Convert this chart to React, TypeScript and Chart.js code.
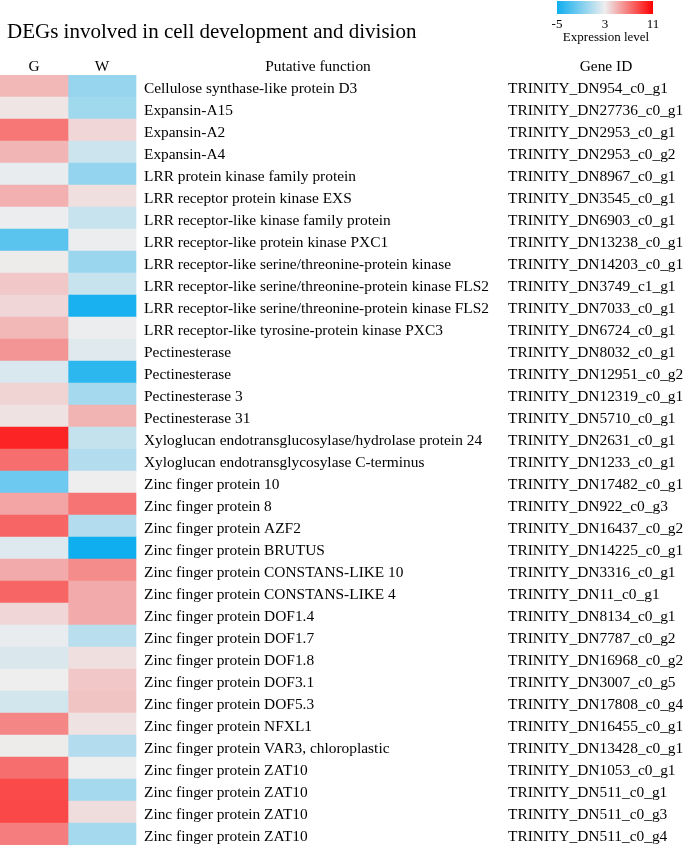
import React, { useEffect, useRef } from "react";
import { Chart, registerables } from "chart.js";

Chart.register(...registerables);

const titleText = "DEGs involved in cell development and division";
const columnLabels = ["G", "W"];
const legendTicks = [-5, 3, 11];
const legendTitle = "Expression level";

const functions = [
  "Cellulose synthase-like protein D3",
  "Expansin-A15",
  "Expansin-A2",
  "Expansin-A4",
  "LRR protein kinase family protein",
  "LRR receptor protein kinase EXS",
  "LRR receptor-like kinase family protein",
  "LRR receptor-like protein kinase PXC1",
  "LRR receptor-like serine/threonine-protein kinase",
  "LRR receptor-like serine/threonine-protein kinase FLS2",
  "LRR receptor-like serine/threonine-protein kinase FLS2",
  "LRR receptor-like tyrosine-protein kinase PXC3",
  "Pectinesterase",
  "Pectinesterase",
  "Pectinesterase 3",
  "Pectinesterase 31",
  "Xyloglucan endotransglucosylase/hydrolase protein 24",
  "Xyloglucan endotransglycosylase C-terminus",
  "Zinc finger protein 10",
  "Zinc finger protein 8",
  "Zinc finger protein AZF2",
  "Zinc finger protein BRUTUS",
  "Zinc finger protein CONSTANS-LIKE 10",
  "Zinc finger protein CONSTANS-LIKE 4",
  "Zinc finger protein DOF1.4",
  "Zinc finger protein DOF1.7",
  "Zinc finger protein DOF1.8",
  "Zinc finger protein DOF3.1",
  "Zinc finger protein DOF5.3",
  "Zinc finger protein NFXL1",
  "Zinc finger protein VAR3, chloroplastic",
  "Zinc finger protein ZAT10",
  "Zinc finger protein ZAT10",
  "Zinc finger protein ZAT10",
  "Zinc finger protein ZAT10",
];

const geneIds = [
  "TRINITY_DN954_c0_g1",
  "TRINITY_DN27736_c0_g1",
  "TRINITY_DN2953_c0_g1",
  "TRINITY_DN2953_c0_g2",
  "TRINITY_DN8967_c0_g1",
  "TRINITY_DN3545_c0_g1",
  "TRINITY_DN6903_c0_g1",
  "TRINITY_DN13238_c0_g1",
  "TRINITY_DN14203_c0_g1",
  "TRINITY_DN3749_c1_g1",
  "TRINITY_DN7033_c0_g1",
  "TRINITY_DN6724_c0_g1",
  "TRINITY_DN8032_c0_g1",
  "TRINITY_DN12951_c0_g2",
  "TRINITY_DN12319_c0_g1",
  "TRINITY_DN5710_c0_g1",
  "TRINITY_DN2631_c0_g1",
  "TRINITY_DN1233_c0_g1",
  "TRINITY_DN17482_c0_g1",
  "TRINITY_DN922_c0_g3",
  "TRINITY_DN16437_c0_g2",
  "TRINITY_DN14225_c0_g1",
  "TRINITY_DN3316_c0_g1",
  "TRINITY_DN11_c0_g1",
  "TRINITY_DN8134_c0_g1",
  "TRINITY_DN7787_c0_g2",
  "TRINITY_DN16968_c0_g2",
  "TRINITY_DN3007_c0_g5",
  "TRINITY_DN17808_c0_g4",
  "TRINITY_DN16455_c0_g1",
  "TRINITY_DN13428_c0_g1",
  "TRINITY_DN1053_c0_g1",
  "TRINITY_DN511_c0_g1",
  "TRINITY_DN511_c0_g3",
  "TRINITY_DN511_c0_g4",
];

const gValues = [
  4.8, 3.3, 7.0, 4.9, 2.8, 5.1, 2.9, -2.3, 3.1, 4.3, 3.8, 4.8, 6.0, 2.2, 3.9,
  3.4, 9.8, 7.3, -1.6, 5.5, 7.6, 2.4, 5.3, 7.6, 3.8, 2.8, 2.3, 3.0, 2.0, 6.5,
  3.1, 7.3, 8.5, 8.6, 6.8,
];

const wValues = [
  -0.1, 0.2, 3.8, 1.8, -0.2, 3.5, 1.6, 2.9, 0.0, 1.6, -4.6, 2.9, 2.5, -3.9, 0.4,
  5.0, 1.5, 0.9, 3.0, 7.1, 0.9, -5.0, 6.3, 5.3, 5.3, 1.1, 3.5, 4.3, 4.4, 3.4,
  0.9, 3.0, 0.4, 3.6, 0.4,
];

const LOW = [14, 174, 239];
const MID = [238, 238, 238];
const HIGH = [255, 0, 0];
const VMIN = -5;
const VMID = 3;
const VMAX = 11;

function colorFor(v: number): string {
  let a: number[], b: number[], t: number;
  if (v <= VMID) {
    a = LOW;
    b = MID;
    t = (v - VMIN) / (VMID - VMIN);
  } else {
    a = MID;
    b = HIGH;
    t = (v - VMID) / (VMAX - VMID);
  }
  t = Math.max(0, Math.min(1, t));
  const c = a.map((x, i) => Math.round(x + (b[i] - x) * t));
  return `rgb(${c[0]},${c[1]},${c[2]})`;
}

const FONT = '"Liberation Serif", "Times New Roman", serif';

export default function App() {
  const ref = useRef<HTMLCanvasElement>(null);

  useEffect(() => {
    if (!ref.current) return;
    const textPlugin = {
      id: "heatText",
      afterDraw(chart: any) {
        const { ctx } = chart;
        const x = chart.scales.x;
        const y = chart.scales.y;
        ctx.save();
        ctx.fillStyle = "#000";
        ctx.textBaseline = "alphabetic";

        ctx.font = `21px ${FONT}`;
        ctx.textAlign = "left";
        ctx.fillText(titleText, 7, 38);

        ctx.font = `15.4px ${FONT}`;
        ctx.textAlign = "center";
        columnLabels.forEach((c, i) => {
          ctx.fillText(c, x.getPixelForValue(i + 0.5), 71);
        });
        ctx.fillText("Putative function", 318, 71);
        ctx.fillText("Gene ID", 606, 71);

        ctx.textAlign = "left";
        functions.forEach((f, i) => {
          const yy = y.getPixelForValue(i);
          ctx.fillText(f, 144, yy + 7);
          ctx.fillText(geneIds[i], 508, yy + 7);
        });

        // colour legend
        const gx0 = 557;
        const gx1 = 653;
        const gy0 = 1;
        const gy1 = 14;
        const grad = ctx.createLinearGradient(gx0, 0, gx1, 0);
        grad.addColorStop(0, colorFor(VMIN));
        grad.addColorStop((VMID - VMIN) / (VMAX - VMIN), colorFor(VMID));
        grad.addColorStop(1, colorFor(VMAX));
        ctx.fillStyle = grad;
        ctx.fillRect(gx0, gy0, gx1 - gx0, gy1 - gy0);

        ctx.fillStyle = "#000";
        ctx.font = `13px ${FONT}`;
        ctx.textAlign = "center";
        legendTicks.forEach((t) => {
          const px = gx0 + ((t - VMIN) / (VMAX - VMIN)) * (gx1 - gx0);
          ctx.fillText(String(t), px, 28);
        });
        ctx.fillText(legendTitle, 606, 41);
        ctx.restore();
      },
    };

    const chart = new Chart(ref.current, {
      type: "bar",
      data: {
        labels: functions,
        datasets: [
          {
            label: columnLabels[0],
            data: gValues.map(() => [0, 1]) as any,
            backgroundColor: gValues.map(colorFor),
            borderWidth: 0,
            barPercentage: 1,
            categoryPercentage: 1,
            grouped: false,
          } as any,
          {
            label: columnLabels[1],
            data: wValues.map(() => [1, 2]) as any,
            backgroundColor: wValues.map(colorFor),
            borderWidth: 0,
            barPercentage: 1,
            categoryPercentage: 1,
            grouped: false,
          } as any,
        ],
      },
      options: {
        indexAxis: "y",
        animation: false,
        responsive: false,
        maintainAspectRatio: false,
        layout: { padding: { top: 75, left: 0, right: 0, bottom: 0 } },
        plugins: {
          legend: { display: false },
          tooltip: { enabled: false },
          title: { display: false },
        },
        scales: {
          x: { type: "linear", min: 0, max: 685 / 68, display: false },
          y: { type: "category", display: false, offset: true },
        },
      },
      plugins: [textPlugin],
    });
    return () => chart.destroy();
  }, []);

  return (
    <div
      style={{
        position: "absolute",
        left: 0,
        top: 0,
        width: 685,
        height: 845,
        background: "#fff",
      }}
    >
      <canvas ref={ref} width={685} height={845} style={{ display: "block" }} />
    </div>
  );
}
